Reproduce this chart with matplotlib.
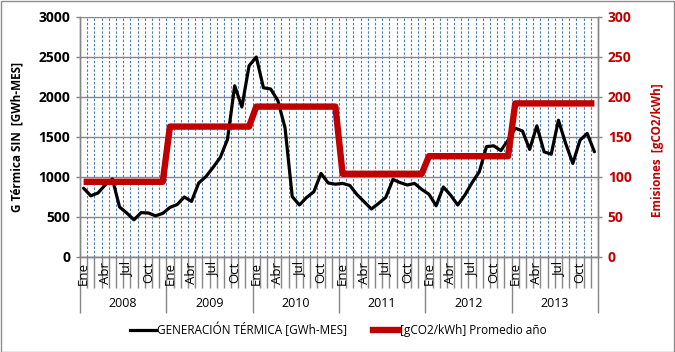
import matplotlib.pyplot as plt
import numpy as np
from matplotlib.transforms import blended_transform_factory
from matplotlib.lines import Line2D

plt.rcParams['font.family'] = ['Open Sans', 'DejaVu Sans']

years = ['2008', '2009', '2010', '2011', '2012', '2013']
months = ['Ene', 'Feb', 'Mar', 'Abr', 'May', 'Jun', 'Jul', 'Ago', 'Sep', 'Oct', 'Nov', 'Dic']
month_labels_shown = ['Ene', 'Abr', 'Jul', 'Oct']

# generacion termica mensual [GWh-MES], ene 2008 .. dic 2013
gen_2008 = [860, 765, 800, 900, 975, 625, 550, 465, 555, 550, 515, 545]
gen_2009 = [620, 655, 750, 695, 925, 1005, 1120, 1245, 1470, 2140, 1875, 2390]
gen_2010 = [2500, 2115, 2100, 1955, 1615, 755, 650, 745, 815, 1045, 925, 910]
gen_2011 = [920, 895, 780, 690, 600, 670, 745, 970, 930, 900, 920, 845]
gen_2012 = [785, 640, 875, 775, 650, 775, 930, 1065, 1380, 1390, 1330, 1460]
gen_2013 = [1610, 1575, 1345, 1640, 1315, 1285, 1710, 1420, 1170, 1460, 1545, 1315]
generacion = gen_2008 + gen_2009 + gen_2010 + gen_2011 + gen_2012 + gen_2013

# emisiones promedio por año [gCO2/kWh]
emis_anual = [94, 163, 188, 104, 126, 192]
emisiones = np.repeat(emis_anual, 12)

n = len(generacion)
x = np.arange(n) + 0.5

W, H = 675, 352
fig = plt.figure(figsize=(W / 100, H / 100), dpi=100)
fig.patch.set_facecolor('white')
fig.add_artist(plt.Rectangle((0.5 / W, 0.5 / H), 1 - 1.5 / W, 1 - 1.5 / H, transform=fig.transFigure,
                             fill=False, edgecolor='#8c8c8c', linewidth=1))

L, R, T, B = 80, 598, 17, 257
ax = fig.add_axes([L / W, 1 - B / H, (R - L) / W, (B - T) / H])
ax2 = ax.twinx()

grey = '#868686'
red = '#C00000'

ax.plot(x, generacion, color='black', linewidth=2.3, solid_joinstyle='round', solid_capstyle='round')
ax2.plot(x, emisiones, color=red, linewidth=4.6, solid_joinstyle='round', solid_capstyle='butt')

ax.set_xlim(0, n)
ax.set_ylim(0, 3000)
ax2.set_ylim(0, 300)
ax.set_yticks(np.arange(0, 3001, 500))
ax2.set_yticks(np.arange(0, 301, 50))

# grid
ax.yaxis.grid(True, color=grey, linewidth=1)
ax.set_xticks(np.arange(0, n + 1, 12))
ax.set_xticks(np.arange(0, n + 1, 1), minor=True)
for v in np.arange(1, n):
    ax.axvline(v, color='#4a7ebb', linewidth=0.8, linestyle=(0, (2.2, 1.6)), zorder=0.5)
ax.set_axisbelow(True)
ax.set_xticklabels([])

ax.tick_params(axis='x', which='major', length=40, color=grey, width=1)
ax.tick_params(axis='x', which='minor', length=22, color=grey, width=1)
ax.tick_params(axis='y', length=3, color=grey, width=1, labelsize=10, pad=4)
ax2.tick_params(axis='y', length=3, color=grey, width=1, labelsize=10, labelcolor=red, pad=4)
for lab in ax.get_yticklabels():
    lab.set_fontweight('bold')
for lab in ax2.get_yticklabels():
    lab.set_fontweight('bold')

for a in (ax, ax2):
    for s in a.spines.values():
        s.set_color(grey)
        s.set_linewidth(1)
ax.spines['top'].set_visible(False)
ax2.spines['top'].set_visible(False)

# etiquetas de mes y año
trans = blended_transform_factory(ax.transData, ax.transAxes)
for i in range(n):
    m = months[i % 12]
    if m in month_labels_shown:
        ax.text(i + 0.5, -0.02, m, transform=trans, rotation=90, ha='center', va='top', fontsize=9.5)
for k, yr in enumerate(years):
    ax.text(12 * k + 6, -0.192, yr, transform=trans, ha='center', va='center', fontsize=9)

fig.text(17 / W, 1 - 137 / H, 'G Térmica SIN  [GWh-MES]', rotation=90, ha='center', va='center',
         fontsize=8.5, fontweight='bold')
fig.text(658 / W, 1 - 150 / H, 'Emisiones  [gCO2/kWh]', rotation=90, ha='center', va='center',
         fontsize=8.5, fontweight='bold', color=red)

handles = [Line2D([], [], color='black', linewidth=2.3),
           Line2D([], [], color=red, linewidth=4.6)]
fig.legend(handles, ['GENERACIÓN TÉRMICA [GWh-MES]', '[gCO2/kWh] Promedio año'],
           loc='center', bbox_to_anchor=(338 / W, 1 - 330 / H), ncol=2, frameon=False,
           fontsize=8.5, handlelength=2.2, handletextpad=0.1, columnspacing=2.2)

fig.savefig('out.png', dpi=100)
